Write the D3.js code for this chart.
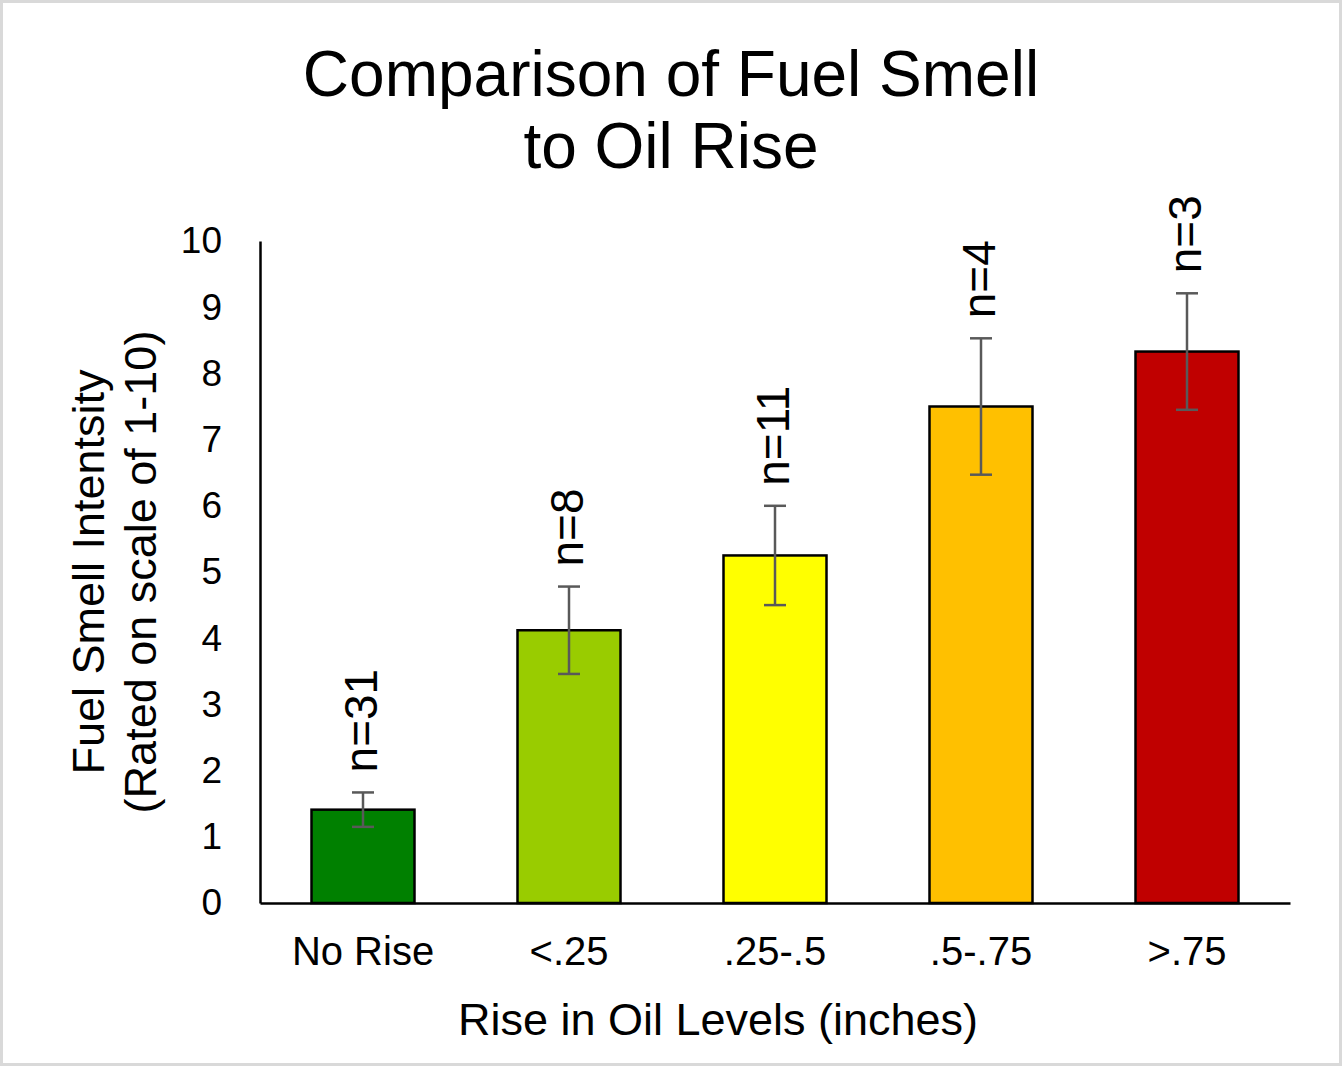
<!DOCTYPE html>
<html>
<head>
<meta charset="utf-8">
<script src="https://cdn.jsdelivr.net/npm/d3@7"></script>
<style>
  body { margin: 0; background: #fff; }
  text { font-family: "Liberation Sans", Arial, sans-serif; fill: #000; }
</style>
</head>
<body>
<div id="chart"></div>
<script>
var categories = ["No Rise", "<.25", ".25-.5", ".5-.75", ">.75"];
var means = [1.41, 4.12, 5.25, 7.50, 8.33];
var errors = [0.26, 0.66, 0.75, 1.03, 0.88];
var counts = ["n=31", "n=8", "n=11", "n=4", "n=3"];
var colors = ["#008000", "#99cc00", "#ffff00", "#ffc000", "#c00000"];
var yTicks = [0, 1, 2, 3, 4, 5, 6, 7, 8, 9, 10];

var width = 1342, height = 1066;
var margin = { top: 241, left: 260, right: 52, bottom: 163 };

var svg = d3.select("#chart")
  .append("svg")
  .attr("width", width)
  .attr("height", height);

// light frame round the picture
svg.append("rect")
  .attr("x", 1.5).attr("y", 1.5)
  .attr("width", width - 3).attr("height", height - 3)
  .attr("fill", "#fff")
  .attr("stroke", "#d9d9d9")
  .attr("stroke-width", 3);

var xScale = d3.scaleBand()
  .domain(categories)
  .range([margin.left, width - margin.right])
  .paddingInner(0.5)
  .paddingOuter(0.25);

var yScale = d3.scaleLinear()
  .domain([0, 10])
  .range([height - margin.bottom, margin.top]);

var data = categories.map(function(c, i) {
  return { cat: c, mean: means[i], err: errors[i], n: counts[i], color: colors[i] };
});

// bars
svg.selectAll("rect.bar")
  .data(data)
  .enter().append("rect")
  .attr("class", "bar")
  .attr("x", function(d) { return xScale(d.cat); })
  .attr("y", function(d) { return yScale(d.mean); })
  .attr("width", xScale.bandwidth())
  .attr("height", function(d) { return yScale(0) - yScale(d.mean); })
  .attr("fill", function(d) { return d.color; })
  .attr("stroke", "#000")
  .attr("stroke-width", 2.5);

// error bars
var err = svg.selectAll("g.err")
  .data(data)
  .enter().append("g")
  .attr("class", "err")
  .attr("stroke", "#595959")
  .attr("stroke-width", 2.5);

err.append("line")
  .attr("x1", function(d) { return xScale(d.cat) + xScale.bandwidth() / 2; })
  .attr("x2", function(d) { return xScale(d.cat) + xScale.bandwidth() / 2; })
  .attr("y1", function(d) { return yScale(d.mean + d.err); })
  .attr("y2", function(d) { return yScale(d.mean - d.err); });

err.selectAll("line.cap")
  .data(function(d) { return [
    { cx: xScale(d.cat) + xScale.bandwidth() / 2, v: d.mean + d.err },
    { cx: xScale(d.cat) + xScale.bandwidth() / 2, v: d.mean - d.err }
  ]; })
  .enter().append("line")
  .attr("class", "cap")
  .attr("x1", function(d) { return d.cx - 11; })
  .attr("x2", function(d) { return d.cx + 11; })
  .attr("y1", function(d) { return yScale(d.v); })
  .attr("y2", function(d) { return yScale(d.v); });

// n labels, rotated
svg.selectAll("text.n")
  .data(data)
  .enter().append("text")
  .attr("class", "n")
  .attr("transform", function(d) {
    var cx = xScale(d.cat) + xScale.bandwidth() / 2 + 14;
    var y = yScale(d.mean + d.err) - 20;
    return "translate(" + cx + "," + y + ") rotate(-90)";
  })
  .attr("font-size", "46px")
  .text(function(d) { return d.n; });

// axes
var yAxis = d3.axisLeft(yScale).tickValues(yTicks).tickSize(0).tickPadding(38);
var gy = svg.append("g")
  .attr("class", "axis y-axis")
  .attr("transform", "translate(" + margin.left + ",0)")
  .call(yAxis);
gy.select(".domain").attr("stroke", "#000").attr("stroke-width", 2.5);
gy.selectAll("text")
  .attr("font-size", "37px")
  .attr("font-family", "Liberation Sans, Arial, sans-serif")
  .attr("fill", "#000");

var xAxis = d3.axisBottom(xScale).tickSize(0).tickSizeOuter(0).tickPadding(34);
var gx = svg.append("g")
  .attr("class", "axis x-axis")
  .attr("transform", "translate(0," + yScale(0) + ")")
  .call(xAxis);
gx.select(".domain").attr("stroke", "#000").attr("stroke-width", 2.5);
gx.selectAll("text")
  .attr("font-size", "40px")
  .attr("font-family", "Liberation Sans, Arial, sans-serif")
  .attr("fill", "#000");

// title
var title = svg.append("text")
  .attr("text-anchor", "middle")
  .attr("font-size", "64px");
title.append("tspan").attr("x", 671).attr("y", 96).text("Comparison of Fuel Smell");
title.append("tspan").attr("x", 671).attr("y", 168).text("to Oil Rise");

// x axis title
svg.append("text")
  .attr("text-anchor", "middle")
  .attr("x", 718)
  .attr("y", 1035)
  .attr("font-size", "45px")
  .text("Rise in Oil Levels (inches)");

// y axis title
var ytitle = svg.append("text")
  .attr("text-anchor", "middle")
  .attr("transform", "translate(0,572) rotate(-90)")
  .attr("font-size", "45px");
ytitle.append("tspan").attr("x", 0).attr("y", 104).text("Fuel Smell Intentsity");
ytitle.append("tspan").attr("x", 0).attr("y", 156).text("(Rated on scale of 1-10)");
</script>
</body>
</html>
